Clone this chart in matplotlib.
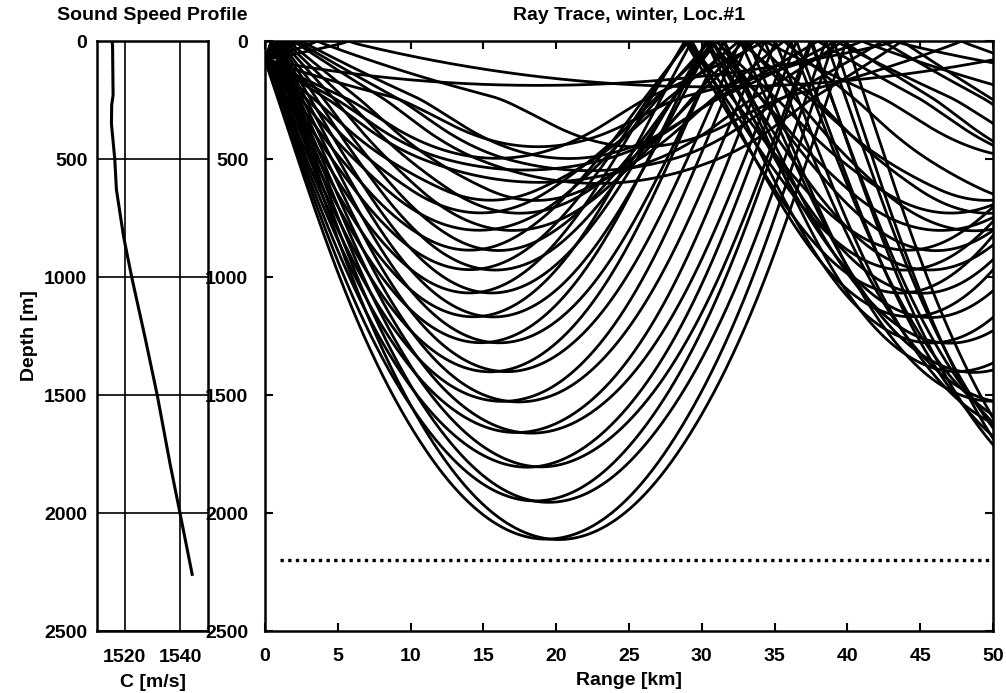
import numpy as np
import matplotlib.pyplot as plt

plt.rcParams['font.family'] = ['Liberation Sans', 'DejaVu Sans']
plt.rcParams['font.weight'] = 'bold'

# sound speed profile
ssp_depth = [0, 15, 230, 270, 350, 500, 630, 830, 1000, 1250, 1500, 1790, 2000, 2260]
ssp_speed = [1515.3, 1515.6, 1515.8, 1515.3, 1515.2, 1516.4, 1517.0, 1519.6,
             1522.5, 1527.2, 1531.7, 1536.3, 1539.9, 1544.3]

# launch angles [deg], each one fired up and down
launch_angles = [0.66, 1.18, 1.76, 2.03, 2.28, 2.88, 3.37, 3.93, 4.60, 5.22,
                 5.91, 6.57, 7.20, 7.83, 8.41, 8.92, 9.46, 10.0, 10.56]
source_depth = 80.0      # m
bottom_depth = 2200.0    # m
bottom_range = [1.0, 50.0]  # km
max_range = 50.0         # km


# ray tracing through the profile (snell, arc length steps)
def trace_rays(angles_deg, zs, x_max_km, ds=10.0):
    zd = np.array(ssp_depth, float)
    cd = np.array(ssp_speed, float)
    grad = np.diff(cd) / np.diff(zd)

    def c_at(z):
        return np.interp(z, zd, cd)

    def dcdz(z):
        i = np.clip(np.searchsorted(zd, z) - 1, 0, len(grad) - 1)
        return grad[i]

    th = np.radians(angles_deg)
    c0 = c_at(zs)
    xi = np.cos(th) / c0
    zeta = np.sin(th) / c0
    x = np.zeros_like(th)
    z = np.full_like(th, zs)
    xs, zs_ = [x.copy()], [z.copy()]
    while x.min() < x_max_km * 1000:
        c = c_at(z)
        g = dcdz(z)
        zh = z + 0.5 * ds * c * zeta
        zetah = zeta - 0.5 * ds * g / c**2
        ch = c_at(zh)
        gh = dcdz(zh)
        x = x + ds * ch * xi
        z = z + ds * ch * zetah
        zeta = zeta - ds * gh / ch**2
        up = z < 0
        z[up] = -z[up]
        zeta[up] = -zeta[up]
        down = z > bottom_depth
        z[down] = 2 * bottom_depth - z[down]
        zeta[down] = -zeta[down]
        xs.append(x.copy())
        zs_.append(z.copy())
    return np.array(xs) / 1000.0, np.array(zs_)


angles = np.concatenate([-np.array(launch_angles), np.array(launch_angles)])
ray_x, ray_z = trace_rays(angles, source_depth, max_range)

fig = plt.figure(figsize=(10.06, 6.93), dpi=100)
ax1 = fig.add_axes([97 / 1006, 1 - 631 / 693, 111 / 1006, 590 / 693])
ax2 = fig.add_axes([265 / 1006, 1 - 631 / 693, 728 / 1006, 590 / 693])

# sound speed profile
ax1.plot(ssp_speed, ssp_depth, color='k', lw=2.2)
ax1.set_xlim(1510, 1550)
ax1.set_ylim(2500, 0)
ax1.set_xticks([1520, 1540])
ax1.set_yticks(range(0, 2501, 500))
ax1.grid(True, color='k', lw=1.2)
ax1.tick_params(direction='in', length=0, labelsize=14, pad=7)
ax1.tick_params(axis='x', pad=13)
ax1.set_title('Sound Speed Profile', fontsize=14, pad=15, fontweight='bold')
ax1.set_xlabel('C [m/s]', fontsize=14, labelpad=6, fontweight='bold')
ax1.set_ylabel('Depth [m]', fontsize=14, labelpad=4, fontweight='bold')

# ray trace
for i in range(ray_x.shape[1]):
    ax2.plot(ray_x[:, i], ray_z[:, i], color='k', lw=2.0)
ax2.plot(bottom_range, [bottom_depth, bottom_depth], color='k', lw=2.4,
         linestyle=(0, (1, 1.3)))
ax2.set_xlim(0, max_range)
ax2.set_ylim(2500, 0)
ax2.set_xticks(range(0, 51, 5))
ax2.set_yticks(range(0, 2501, 500))
ax2.tick_params(direction='in', top=True, right=True, length=6, width=1.5,
                labelsize=14, pad=12)
ax2.set_title('Ray Trace, winter, Loc.#1', fontsize=14, pad=15, fontweight='bold')
ax2.set_xlabel('Range [km]', fontsize=14, labelpad=5, fontweight='bold')

for ax in (ax1, ax2):
    for s in ax.spines.values():
        s.set_linewidth(1.8)

fig.savefig('out.png', dpi=100)
